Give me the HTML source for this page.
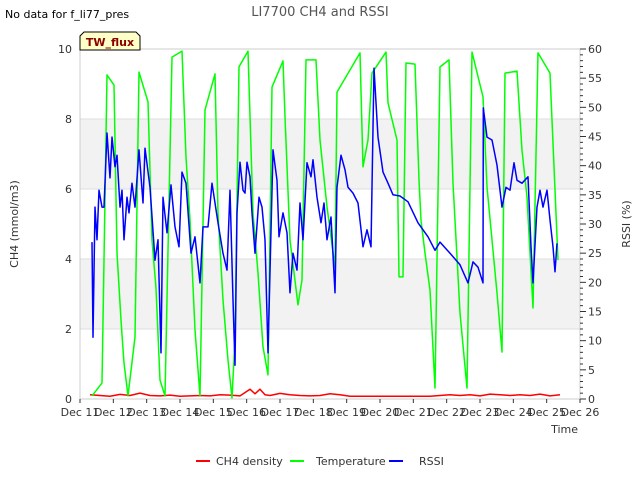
<!DOCTYPE html>
<html><head><meta charset="utf-8"><style>
body{margin:0;background:#fff;font-family:"Liberation Sans",sans-serif}
svg text{font-family:"DejaVu Sans","Liberation Sans",sans-serif}
</style></head><body>
<svg id="chart" width="640" height="480" xmlns="http://www.w3.org/2000/svg">
<rect x="0" y="0" width="640" height="480" fill="#fff"/>
<g id="bands"></g>
<g id="grid"></g>
<rect x="80" y="49" width="500" height="350" fill="none" stroke="#ccc"/>
<g id="axes"></g>
<g id="series"></g>
<text x="5" y="18" font-size="11" fill="#000">No data for f_li77_pres</text>
<text x="320" y="16" font-size="13" fill="#555" text-anchor="middle">LI7700 CH4 and RSSI</text>
<g>
<path d="M80,50 L80,36 L84,32 L136,32 L140,36 L140,50 Z" fill="#ffffc8" stroke="#000"/>
<text x="110" y="46" font-size="11" font-weight="bold" fill="#8b0000" text-anchor="middle">TW_flux</text>
</g>
<text transform="translate(18,224) rotate(-90)" font-size="11" fill="#333" text-anchor="middle">CH4 (mmol/m3)</text>
<text transform="translate(630,224) rotate(-90)" font-size="11" fill="#333" text-anchor="middle">RSSI (%)</text>
<text x="578" y="433" font-size="11" fill="#333" text-anchor="end">Time</text>
<g>
<g><line x1="196" y1="461" x2="210" y2="461" stroke="#f00" stroke-width="2"/><text x="216" y="465" font-size="11" fill="#333">CH4 density</text></g>
<g><line x1="290" y1="461" x2="304" y2="461" stroke="#0f0" stroke-width="2"/><text x="316" y="465" font-size="11" fill="#333">Temperature</text></g>
<g><line x1="389" y1="461" x2="403" y2="461" stroke="#00f" stroke-width="2"/><text x="419" y="465" font-size="11" fill="#333">RSSI</text></g>
</g>
</svg>
<script>
const xTickLabels=["Dec 11","Dec 12","Dec 13","Dec 14","Dec 15","Dec 16","Dec 17","Dec 18","Dec 19","Dec 20","Dec 21","Dec 22","Dec 23","Dec 24","Dec 25","Dec 26"];
const leftTicks=[0,2,4,6,8,10];
const rightTicks=[0,5,10,15,20,25,30,35,40,45,50,55,60];
const tempDays=[0.36,0.66,0.81,1.02,1.11,1.23,1.26,1.32,1.44,1.65,1.77,2.04,2.16,2.28,2.40,2.55,2.76,3.06,3.18,3.30,3.45,3.60,3.75,4.05,4.14,4.29,4.44,4.56,4.65,4.77,5.04,5.19,5.34,5.49,5.64,5.76,6.09,6.15,6.30,6.54,6.66,6.78,7.08,7.20,7.41,7.65,7.71,8.40,8.49,8.64,8.76,9.18,9.24,9.51,9.57,9.69,9.78,10.05,10.17,10.23,10.35,10.50,10.65,10.80,11.07,11.19,11.40,11.61,11.76,12.09,12.21,12.51,12.66,12.75,13.11,13.26,13.41,13.59,13.74,14.10,14.34];
const tempVals=[0.09,0.46,9.26,8.97,4.17,2.26,1.83,1.03,0.09,1.77,9.34,8.49,4.54,3.17,0.54,0.09,9.77,9.94,6.91,5.11,1.97,0.09,8.26,9.29,5.31,2.83,1.11,0.03,1.69,9.49,9.94,5.31,3.60,1.49,0.69,8.91,9.66,8.06,4.54,2.69,3.40,9.69,9.69,7.40,5.49,3.77,8.77,9.89,6.63,7.40,9.31,9.91,8.46,7.40,3.49,3.49,9.60,9.57,6.26,5.11,4.17,3.11,0.31,9.49,9.69,6.17,2.46,0.31,9.91,8.63,6.06,3.03,1.34,9.31,9.37,7.11,5.77,2.60,9.89,9.31,3.97];
const rssiDays=[0.36,0.39,0.45,0.51,0.57,0.66,0.72,0.81,0.90,0.96,1.05,1.11,1.20,1.26,1.32,1.41,1.47,1.56,1.65,1.77,1.89,1.95,2.10,2.25,2.34,2.43,2.49,2.61,2.73,2.85,2.97,3.06,3.18,3.33,3.45,3.60,3.69,3.84,3.96,4.05,4.14,4.29,4.41,4.50,4.59,4.65,4.71,4.80,4.89,4.95,5.01,5.10,5.16,5.25,5.37,5.46,5.55,5.64,5.79,5.91,5.97,6.09,6.21,6.30,6.39,6.51,6.60,6.69,6.81,6.93,6.99,7.11,7.23,7.32,7.41,7.53,7.65,7.71,7.83,7.95,8.04,8.19,8.34,8.49,8.61,8.73,8.82,8.94,9.09,9.24,9.39,9.60,9.84,10.14,10.44,10.65,10.80,11.10,11.40,11.64,11.79,11.94,12.09,12.10,12.21,12.36,12.51,12.66,12.78,12.90,13.02,13.11,13.26,13.44,13.53,13.59,13.71,13.80,13.89,14.01,14.10,14.19,14.25,14.31];
const rssiVals=[26.9,10.6,32.9,27.3,35.8,32.9,32.9,45.6,37.9,44.9,39.8,41.8,32.9,35.8,27.3,34.6,31.9,37.0,32.9,42.7,33.6,43.0,36.3,23.8,27.3,7.9,34.6,28.5,36.7,29.5,26.1,38.9,37.0,25.0,27.8,19.9,29.5,29.5,37.0,33.6,30.2,25.0,22.1,35.8,17.0,5.8,31.9,40.6,35.8,35.3,40.6,38.1,31.9,25.0,34.6,32.9,27.3,7.9,42.7,37.5,27.8,31.9,28.5,18.2,25.0,22.1,33.6,27.3,40.5,38.1,41.0,34.6,30.2,33.6,27.3,31.2,18.2,36.3,41.8,39.3,36.3,35.3,33.6,26.1,29.0,26.1,56.7,44.9,38.9,37.0,35.0,34.8,33.8,30.2,27.8,25.5,26.9,25.0,23.0,19.9,23.5,22.6,19.9,49.9,44.9,44.4,40.1,32.9,36.3,35.8,40.5,37.5,37.0,38.1,26.1,19.9,32.9,35.8,32.9,35.8,30.7,26.1,21.8,26.7];
const ch4Days=[0.3,0.6,0.9,1.2,1.5,1.8,2.1,2.4,2.7,3.0,3.3,3.6,3.9,4.2,4.5,4.8,5.1,5.25,5.4,5.55,5.7,6.0,6.3,6.6,6.9,7.2,7.5,7.8,8.1,8.4,8.7,9.0,9.3,9.6,9.9,10.2,10.5,10.8,11.1,11.4,11.7,12.0,12.3,12.6,12.9,13.2,13.5,13.8,14.1,14.4];
const ch4Vals=[0.12,0.10,0.08,0.13,0.10,0.17,0.10,0.09,0.11,0.08,0.09,0.10,0.09,0.12,0.11,0.09,0.28,0.15,0.28,0.12,0.10,0.16,0.12,0.10,0.09,0.10,0.15,0.12,0.08,0.08,0.08,0.08,0.08,0.08,0.08,0.08,0.08,0.10,0.12,0.10,0.12,0.09,0.14,0.12,0.10,0.12,0.10,0.14,0.09,0.12];
const X0=80,X1=580,Y0=399,Y1=49;
function xs(d){return X0+d*(X1-X0)/15;}
function yl(v){return Y0-v*(Y0-Y1)/10;}
function yr(v){return Y0-v*(Y0-Y1)/60;}
const NS="http://www.w3.org/2000/svg";
function mk(tag,attrs,parent){const e=document.createElementNS(NS,tag);for(const k in attrs)e.setAttribute(k,attrs[k]);parent.appendChild(e);return e;}
const bands=document.getElementById('bands'),grid=document.getElementById('grid'),axes=document.getElementById('axes'),series=document.getElementById('series');
[[2,4],[6,8]].forEach(b=>{const r=mk('rect',{x:X0,y:yl(b[1]),width:X1-X0,height:yl(b[0])-yl(b[1]),fill:'#f2f2f2'},bands);

});
leftTicks.forEach(v=>{const l=mk('line',{x1:X0,x2:X1,y1:yl(v),y2:yl(v),stroke:'#ddd'},grid);


const t=mk('text',{x:X0-8,y:yl(v)+4,'font-size':11,fill:'#333','text-anchor':'end'},axes);t.textContent=v;

});
for(let v=0;v<=60;v++){const big=v%5===0;mk('line',{x1:X1,x2:X1+(big?6:3),y1:yr(v),y2:yr(v),stroke:'#333'},axes);}
rightTicks.forEach(v=>{const t=mk('text',{x:X1+8,y:yr(v)+4,'font-size':11,fill:'#333'},axes);t.textContent=v;

});
xTickLabels.forEach((s,i)=>{mk('line',{x1:xs(i),x2:xs(i),y1:Y0,y2:Y0+4,stroke:'#333'},axes);const t=mk('text',{x:xs(i),y:Y0+17,'font-size':11,fill:'#333','text-anchor':'middle'},axes);t.textContent=s;

});
function line(days,vals,yf,col,name){const p=days.map((d,i)=>xs(d).toFixed(1)+','+yf(vals[i]).toFixed(1)).join(' ');const e=mk('polyline',{points:p,fill:'none',stroke:col,'stroke-width':1.5,'stroke-linejoin':'round'},series);

}
line(ch4Days,ch4Vals,yl,'#f00','ch4-density-line');
line(tempDays,tempVals,yl,'#0f0','temperature-line');
line(rssiDays,rssiVals,yr,'#00f','rssi-line');
</script>
</body></html>
